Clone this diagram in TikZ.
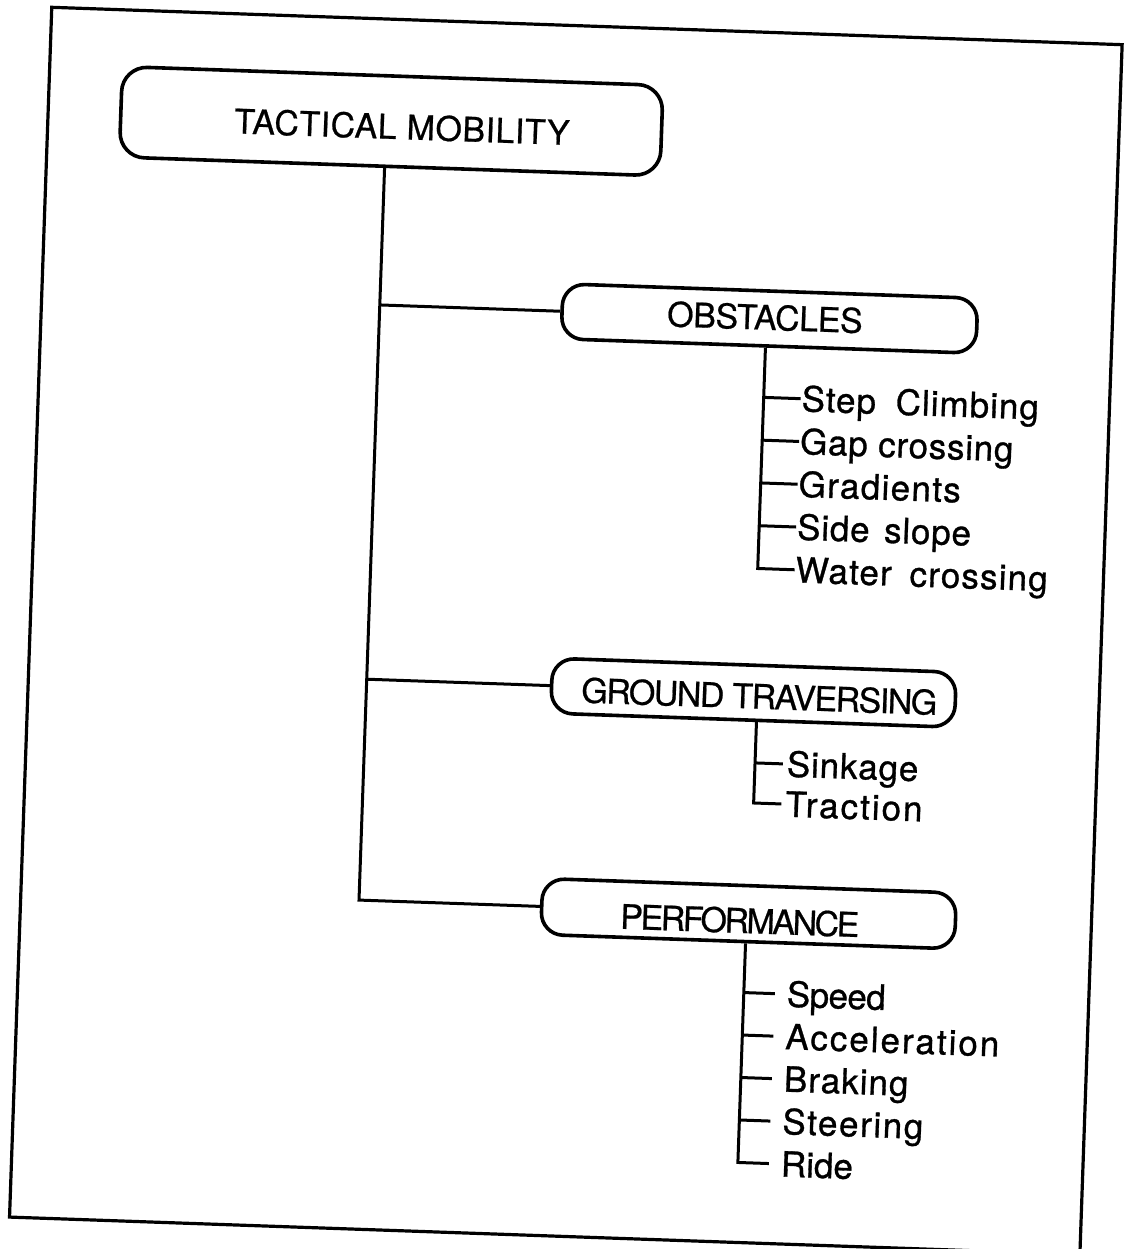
\documentclass[tikz,border=0pt]{standalone}
\usepackage{fontspec}
\setmainfont{TeX Gyre Heros}
% tracked text: #1 = letter spacing, #2 = text
\newcommand\trk[2]{{\addfontfeatures{LetterSpace=#1}#2}}
\newcommand\boxfont{\fontsize{34}{40}\selectfont\addfontfeatures{FakeBold=0.6}}
\newcommand\itemfont{\fontsize{35}{42}\selectfont\addfontfeatures{FakeBold=0.9}}
\tikzset{
  frameline/.style={line width=3.2pt},
  box/.style={draw, line width=3.6pt, rounded corners=22pt, inner sep=0pt,
              text depth=0pt, font=\boxfont},
  item/.style={anchor=west, inner ysep=0pt, text height=25.1pt, text depth=0pt,
               font=\itemfont},
  conn/.style={line width=3pt},
}
\begin{document}
\begin{tikzpicture}[x=1pt,y=-1pt]
\useasboundingbox (0,0) rectangle (1133,1249);
\clip (0,0) rectangle (1133,1249);
\begin{scope}[rotate around={-2:(0,0)}, transform shape]
  % outer frame
  \draw[frameline] (52,5.5) rectangle (1123,1216);

  % main boxes
  \node[box, rounded corners=25pt, minimum width=541pt, minimum height=90.5pt,
        text height=35.2pt] (tm) at (395.2,107.5)
        {\hspace*{22pt}\trk{1.5}{TACTICAL MOBILITY}};
  \node[box, minimum width=415pt, minimum height=55pt, text height=22.6pt]
        (obst) at (780.1,291.5) {\trk{-1.1}{OBSTACLES}\hspace*{9pt}};
  \node[box, minimum width=404pt, minimum height=55pt, text height=31.6pt]
        (gt) at (777.2,666) {\hspace*{12pt}\trk{-4.4}{GROUND TRAVERSING}};
  \node[box, minimum width=414pt, minimum height=56pt, text height=39pt]
        (perf) at (780,887) {\trk{-7.2}{PERFORMANCE}\hspace*{17pt}};

  % trunk and branches
  \coordinate (trunk) at ([xshift=-5pt]tm.south);
  \draw[conn] (trunk) |- (perf.west);
  \draw[conn] (trunk |- obst.west) -- (obst.west);
  \draw[conn] (trunk |- gt.west) -- (gt.west);

  % obstacle items
  \node[item, inner xsep=1pt] (o1) at (814,370.5) {\trk{2.9}{Step\hspace{9pt} Climbing}};
  \node[item, inner xsep=1pt] (o2) at (814,413.3) {\trk{2.1}{Gap crossing}};
  \node[item, inner xsep=1pt] (o3) at (814,456.1) {\trk{3.8}{Gradients}};
  \node[item, inner xsep=1pt] (o4) at (814,498.9) {\trk{2.3}{Side\hspace{4pt} slope}};
  \node[item, inner xsep=1pt] (o5) at (814,541.7) {\trk{3.3}{Water\hspace{7pt} crossing}};
  \coordinate (ob) at ([xshift=-3pt]obst.south);
  \draw[conn] (ob) |- (o5.west);
  \foreach \k in {1,...,4} \draw[conn] (ob |- o\k.west) -- (o\k.west);

  % ground traversing items
  \node[item, inner xsep=4pt] (g1) at (809,736.1) {\trk{2.4}{Sinkage}};
  \node[item, inner xsep=4pt] (g2) at (809,776.2) {\trk{5.7}{Traction}};
  \coordinate (gb) at ([xshift=4pt]gt.south);
  \draw[conn] (gb) |- (g2.west);
  \draw[conn] (gb |- g1.west) -- (g1.west);

  % performance items
  \node[item, inner xsep=12pt] (p1) at (809,966) {\trk{-1.7}{Speed}};
  \node[item, inner xsep=12pt] (p2) at (809,1008.5) {\trk{5.7}{Acceleration}};
  \node[item, inner xsep=12pt] (p3) at (809,1051) {\trk{2.9}{Braking}};
  \node[item, inner xsep=12pt] (p4) at (809,1093.5) {\trk{4.6}{Steering}};
  \node[item, inner xsep=12pt] (p5) at (809,1136) {Ride};
  \coordinate (pb) at ([xshift=-2pt]perf.south);
  \draw[conn] (pb) |- (p5.west);
  \foreach \k in {1,...,4} \draw[conn] (pb |- p\k.west) -- (p\k.west);
\end{scope}
\end{tikzpicture}
\end{document}
